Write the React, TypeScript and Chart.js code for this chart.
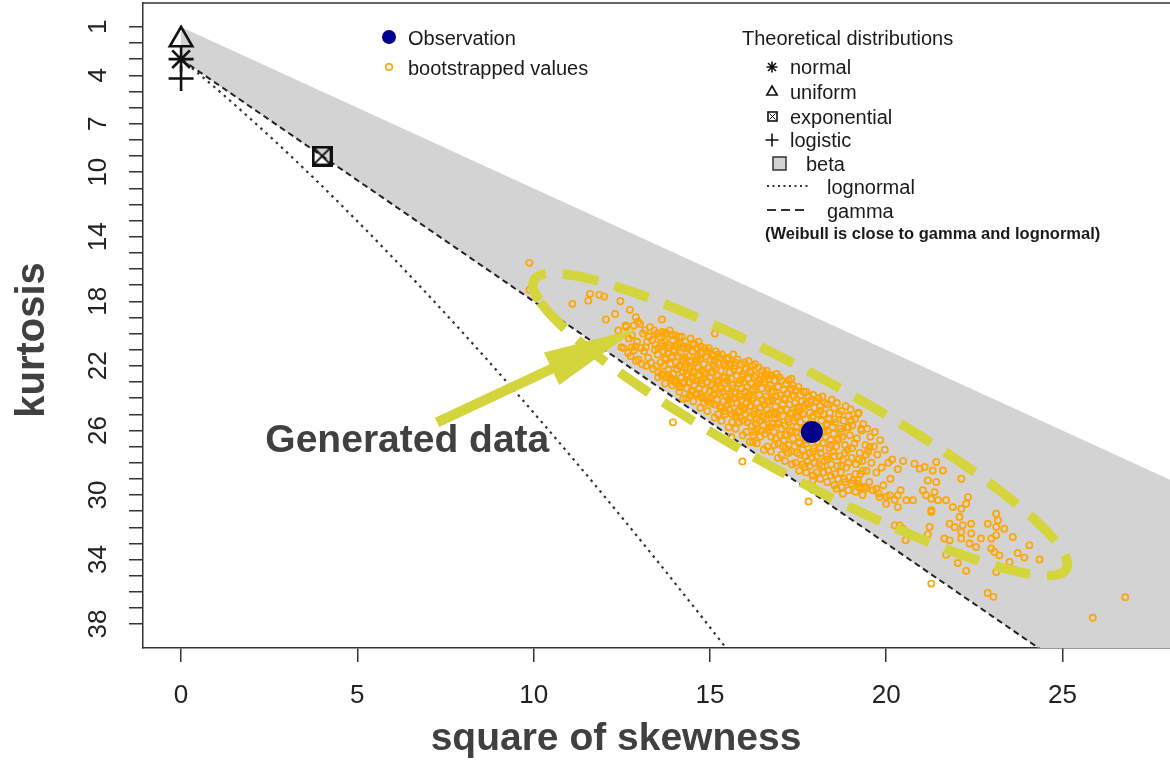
import { useEffect, useRef } from "react";
import { Chart, registerables } from "chart.js";

Chart.register(...registerables);

const FONT = "'Liberation Sans', Arial, Helvetica, sans-serif";

// Observed sample (square of skewness, kurtosis)
const observedSkew2 = [17.89];
const observedKurt = [26.1];

// Single-point theoretical distributions
const normalPoint = { x: 0, y: 3 };
const uniformPoint = { x: 0, y: 1.8 };
const logisticPoint = { x: 0, y: 4.2 };
const exponentialPoint = { x: 4, y: 9 };

// Lognormal curve
const lognormalSkew2 = [0, 0.465, 0.961, 1.488, 2.048, 2.641, 3.267, 3.928, 4.624, 5.356, 6.125, 6.931, 7.776, 8.66, 9.583, 10.547, 11.552, 12.599, 13.689, 14.822, 16.0];
const lognormalKurt = [3, 3.838, 4.756, 5.758, 6.85, 8.035, 9.32, 10.71, 12.21, 13.825, 15.563, 17.427, 19.426, 21.564, 23.848, 26.285, 28.882, 31.644, 34.58, 37.696, 41.0];

// Gamma line
const gammaSkew2 = [0, 26];
const gammaKurt = [3, 42];

// Beta region outline (upper limit and gamma line)
const betaSkew2 = [0, 30, 30, 0];
const betaKurt = [1, 31, 48, 3];

// Bootstrapped values, flat (skew², kurtosis) pairs
const bootCore = [
  12.55,20.9, 12.62,19.6, 12.68,21.2, 12.70,20.3,
  12.75,21.4, 12.79,20.1, 12.84,19.5, 12.88,20.8, 12.90,21.7,
  12.93,20.5, 12.97,21.6, 13.02,19.4, 13.05,20.9, 13.08,21.9, 13.10,20.0,
  13.13,21.1, 13.16,19.8, 13.19,22.0, 13.22,20.5, 13.25,21.5, 13.28,20.2, 13.30,19.6,
  13.33,21.8, 13.36,20.4, 13.39,22.2, 13.42,19.8, 13.44,21.0, 13.46,20.7, 13.48,22.0, 13.50,20.0,
  13.52,21.3, 13.54,22.4, 13.57,20.2, 13.60,21.8, 13.62,20.8, 13.64,22.6, 13.66,19.9, 13.68,21.1, 13.70,22.0,
  13.72,20.5, 13.74,21.6, 13.76,22.7, 13.78,20.0, 13.80,21.2, 13.82,22.2, 13.84,20.9, 13.86,19.8, 13.88,21.9, 13.90,22.8,
  13.92,21.5, 13.94,20.4, 13.96,22.5, 13.98,21.0, 14.00,23.0, 14.02,20.1, 14.04,21.8, 14.06,22.2, 14.08,20.7, 14.10,21.4, 14.11,23.1,
  14.12,22.0, 14.14,20.6, 14.15,23.3, 14.17,21.2, 14.19,22.7, 14.20,20.2, 14.22,21.7, 14.24,22.4, 14.26,20.9, 14.27,23.0, 14.29,21.5, 14.30,22.1,
  14.31,20.5, 14.33,21.9, 14.35,23.4, 14.36,22.6, 14.38,20.9, 14.40,21.4, 14.42,23.0, 14.44,22.2, 14.45,20.3, 14.47,21.7, 14.48,23.6, 14.50,22.8,
  14.51,21.1, 14.53,22.4, 14.55,20.6, 14.56,23.2, 14.58,21.8, 14.60,22.9, 14.62,20.9, 14.63,23.7, 14.65,21.4, 14.66,22.1, 14.68,20.5, 14.69,23.4, 14.70,22.6,
  14.71,21.6, 14.73,23.9, 14.74,20.8, 14.76,22.3, 14.77,23.1, 14.79,21.2, 14.80,22.8, 14.82,24.0, 14.83,21.9, 14.85,20.9, 14.86,23.5, 14.88,22.5, 14.90,21.4,
  14.91,23.0, 14.93,21.1, 14.94,24.2, 14.96,22.1, 14.97,20.9, 14.99,23.6, 15.00,22.7, 15.02,21.6, 15.03,24.0, 15.05,23.2, 15.06,21.3, 15.08,22.4, 15.09,23.8, 15.10,22.0,
  15.11,21.4, 15.13,23.4, 15.14,24.4, 15.16,22.2, 15.17,21.1, 15.19,23.0, 15.20,24.1, 15.22,22.6, 15.23,21.8, 15.25,23.7, 15.26,22.9, 15.28,24.5, 15.29,21.5, 15.30,23.3,
  15.31,22.3, 15.33,24.6, 15.34,21.3, 15.36,23.6, 15.37,22.7, 15.39,24.2, 15.40,21.9, 15.42,23.1, 15.43,24.8, 15.45,22.0, 15.46,23.9, 15.48,21.6, 15.49,22.9, 15.50,24.4,
  15.51,23.4, 15.53,21.5, 15.54,24.7, 15.56,22.4, 15.57,23.9, 15.58,21.9, 15.60,24.3, 15.61,22.8, 15.63,25.0, 15.64,23.2, 15.66,21.3, 15.67,24.0, 15.68,22.2, 15.69,23.6, 15.70,24.9,
  15.71,22.0, 15.73,23.7, 15.74,25.1, 15.76,22.6, 15.77,24.3, 15.78,21.6, 15.80,23.1, 15.81,24.8, 15.83,22.3, 15.84,23.9, 15.86,25.2, 15.87,22.9, 15.88,24.5, 15.89,21.9, 15.90,23.4,
  15.91,24.1, 15.93,22.5, 15.94,25.4, 15.96,23.0, 15.97,24.7, 15.98,21.8, 16.00,23.6, 16.01,25.0, 16.03,22.2, 16.04,24.3, 16.06,23.3, 16.07,25.5, 16.08,22.8, 16.09,24.0, 16.10,21.7,
  16.11,23.8, 16.13,25.2, 16.14,22.4, 16.16,24.5, 16.17,23.1, 16.18,25.7, 16.20,22.0, 16.21,24.0, 16.23,23.5, 16.24,25.0, 16.26,22.7, 16.27,24.8, 16.28,21.9, 16.29,23.3, 16.30,25.6,
  16.31,22.6, 16.33,24.3, 16.34,25.9, 16.36,23.1, 16.37,24.9, 16.38,22.1, 16.40,23.8, 16.41,25.4, 16.43,22.9, 16.44,24.6, 16.46,26.0, 16.47,23.4, 16.48,25.1, 16.49,22.3, 16.50,24.1,
  16.51,25.7, 16.53,23.0, 16.54,24.4, 16.56,26.2, 16.57,22.5, 16.58,23.9, 16.60,25.3, 16.61,22.3, 16.63,24.7, 16.64,26.0, 16.66,23.4, 16.67,25.0, 16.68,22.8, 16.69,24.2, 16.70,25.8,
  16.71,23.2, 16.73,24.9, 16.74,26.4, 16.76,22.6, 16.77,24.1, 16.78,25.6, 16.80,23.6, 16.81,26.1, 16.83,22.9, 16.84,25.2, 16.86,24.5, 16.87,26.5, 16.88,23.9, 16.89,22.5, 16.90,25.0,
  16.91,24.2, 16.93,26.8, 16.94,23.3, 16.96,25.5, 16.97,22.7, 16.98,24.8, 17.00,26.3, 17.01,23.8, 17.03,25.9, 17.04,22.9, 17.06,24.4, 17.07,27.0, 17.08,25.1, 17.09,23.5, 17.10,26.6,
  17.11,24.0, 17.13,25.7, 17.14,27.1, 17.16,23.1, 17.17,24.7, 17.18,26.3, 17.20,23.7, 17.21,25.3, 17.23,26.9, 17.24,22.9, 17.26,24.4, 17.27,26.0, 17.28,25.0, 17.30,23.4,
  17.31,27.3, 17.33,24.9, 17.34,23.2, 17.36,26.5, 17.37,25.4, 17.38,23.9, 17.40,27.0, 17.41,24.3, 17.43,26.1, 17.44,23.5, 17.46,25.8, 17.47,24.6, 17.48,27.4, 17.50,25.1,
  17.51,23.3, 17.53,26.7, 17.54,24.8, 17.56,27.5, 17.57,25.5, 17.58,23.8, 17.60,26.2, 17.61,24.2, 17.63,27.2, 17.64,25.0, 17.66,23.6, 17.67,26.0, 17.68,24.5, 17.70,27.6,
  17.71,25.3, 17.73,23.6, 17.74,26.8, 17.76,24.4, 17.77,27.9, 17.78,25.8, 17.80,23.9, 17.81,26.4, 17.83,27.4, 17.84,24.9, 17.86,26.1, 17.88,24.1, 17.90,27.7,
  17.91,25.5, 17.93,23.8, 17.94,27.1, 17.96,24.6, 17.97,28.0, 17.98,26.3, 18.00,24.2, 18.01,25.9, 18.03,27.6, 18.05,25.0, 18.06,26.7, 18.08,24.0, 18.10,28.1,
  18.11,26.1, 18.13,24.5, 18.14,27.4, 18.16,25.4, 18.18,28.2, 18.19,23.9, 18.20,26.8, 18.22,25.0, 18.24,27.9, 18.26,24.3, 18.28,26.4, 18.30,25.7,
  18.31,27.6, 18.33,24.4, 18.34,26.0, 18.36,28.5, 18.38,25.3, 18.39,27.1, 18.40,24.9, 18.42,26.6, 18.44,28.1, 18.46,24.1, 18.48,25.8, 18.50,27.3,
  18.51,26.2, 18.53,24.6, 18.55,28.7, 18.56,25.5, 18.58,27.0, 18.60,24.3, 18.62,28.2, 18.64,26.5, 18.66,25.0, 18.68,27.6, 18.70,25.9,
  18.71,28.6, 18.73,24.8, 18.75,26.4, 18.77,27.8, 18.79,25.4, 18.81,29.0, 18.83,26.9, 18.85,24.5, 18.87,28.3, 18.90,25.8,
  18.91,27.2, 18.93,25.1, 18.95,28.9, 18.97,26.3, 18.99,24.7, 19.02,27.7, 19.04,25.7, 19.07,29.1, 19.10,26.8,
  19.12,25.3, 19.14,28.1, 19.17,26.5, 19.19,29.3, 19.22,24.9, 19.25,27.4, 19.27,28.7, 19.30,26.0,
  19.32,27.9, 19.35,25.6, 19.38,29.5, 19.41,26.9, 19.44,28.5, 19.46,25.9, 19.49,27.3,
  19.52,29.2, 19.55,26.4, 19.58,28.0, 19.62,29.7, 19.65,27.0, 19.68,26.1,
  19.72,28.6, 19.75,27.5, 19.79,29.9, 19.83,26.6, 19.87,28.3,
  19.92,29.4, 19.96,27.2, 20.01,30.1, 20.06,28.0,
  20.12,29.0, 20.17,27.8, 20.24,30.3,
  20.33,28.4, 20.41,29.7, 20.48,27.9,
];

// Extra bootstrap values in the densest part of the cloud
const bootCoreDense = [
  13.53,22.7, 13.53,20.9, 13.53,20.0, 13.63,22.5, 13.63,20.6,
  13.73,23.1, 13.73,21.5, 13.73,20.0, 13.83,22.6, 13.83,20.7,
  13.93,23.2, 13.93,21.4, 13.93,20.1, 14.03,22.9, 14.03,20.8,
  14.13,23.6, 14.13,22.0, 14.13,20.2, 14.23,23.1, 14.23,21.6,
  14.33,24.0, 14.33,22.5, 14.33,20.8, 14.43,23.8, 14.43,21.7,
  14.53,24.2, 14.53,22.3, 14.53,20.7, 14.63,23.8, 14.63,21.6,
  14.73,24.6, 14.73,22.9, 14.73,21.2, 14.83,24.3, 14.83,22.4,
  14.93,24.8, 14.93,23.0, 14.93,21.1, 15.03,24.3, 15.03,22.4,
  15.13,25.2, 15.13,23.7, 15.13,21.7, 15.23,25.0, 15.23,22.9, 15.23,21.3,
  15.33,25.4, 15.33,23.4, 15.43,25.0, 15.43,22.7,
  15.53,25.8, 15.53,24.1, 15.53,21.9, 15.63,25.5, 15.63,23.4,
  15.73,25.9, 15.73,24.0, 15.73,21.8, 15.83,25.5, 15.83,23.1,
  15.93,26.3, 15.93,24.6, 15.93,22.7, 16.03,26.1, 16.03,23.9,
  16.13,26.7, 16.13,24.5, 16.13,22.3, 16.23,26.3, 16.23,23.8,
  16.33,26.8, 16.33,25.3, 16.33,23.1, 16.43,26.4, 16.43,24.6,
  16.53,27.2, 16.53,25.2, 16.53,22.8, 16.63,27.0, 16.63,24.2,
  16.73,27.3, 16.73,25.8, 16.73,23.6, 16.83,26.9, 16.83,25.0,
  16.93,27.7, 16.93,25.6, 16.93,23.3, 17.03,27.5, 17.03,24.7,
  17.13,27.9, 17.13,26.3, 17.13,24.1, 17.23,27.4, 17.23,25.5,
  17.33,28.1, 17.33,26.1, 17.33,23.8, 17.43,28.0, 17.43,25.2,
  17.53,28.5, 17.53,26.8, 17.53,24.6, 17.63,28.1, 17.63,25.9,
  17.73,28.6, 17.73,26.6, 17.73,24.3, 17.83,28.2, 17.83,25.7,
  17.93,28.8, 17.93,27.3, 17.93,25.1, 18.03,28.6, 18.03,26.4,
  18.13,29.0, 18.13,27.1, 18.13,24.8, 18.23,28.6, 18.23,26.1,
  18.33,29.2, 18.33,27.8, 18.33,25.6, 18.43,28.8, 18.43,26.9,
  18.53,29.4, 18.53,27.6, 18.53,25.3, 18.63,29.0, 18.63,26.6,
  18.73,29.5, 18.73,28.2, 18.73,26.1, 18.83,29.2, 18.83,27.4,
  18.93,29.7, 18.93,28.0, 18.93,25.8, 19.03,29.3, 19.03,27.1,
  19.13,29.8, 19.13,28.7, 19.23,29.5, 19.23,27.8,
  19.33,30.0, 19.33,28.5, 19.43,29.6, 19.43,27.5,
];

const bootUpperLeft = [
  9.88,15.62, 9.88,17.29, 11.60,17.54, 11.86,17.60, 12.00,17.71, 11.55,17.96, 11.10,18.16,
  12.46,18.00, 12.73,18.53, 12.31,18.78, 12.05,19.13, 12.90,18.99, 12.96,19.26, 12.61,19.50,
  13.64,19.13, 12.40,19.81, 12.49,20.84, 12.78,20.84, 12.84,21.05, 13.18,20.84, 15.14,20.00,
  16.69,22.60, 17.31,22.80, 17.31,23.42, 13.86,22.70, 14.14,23.32, 14.48,23.53, 14.76,23.94,
  14.24,24.04, 16.22,26.72, 15.61,26.41, 16.27,26.10,
];

const bootRightTail = [
  19.20,24.97, 19.01,25.38, 19.29,25.90, 19.53,27.03, 17.69,28.27, 17.92,28.79, 17.92,29.10,
  18.59,29.61, 18.77,29.92, 19.20,29.10, 19.29,29.51, 19.72,29.61, 19.81,30.13, 20.10,30.02,
  20.33,30.02, 20.00,30.54, 20.33,30.75, 20.57,30.33, 20.76,30.33, 20.80,28.06, 20.95,28.37,
  21.09,28.27, 21.42,27.96, 21.32,28.48, 21.61,28.48, 21.18,29.10, 21.42,29.20, 21.04,29.71,
  21.13,30.02, 21.37,29.82, 21.28,30.23, 21.47,30.33, 21.70,30.33, 21.89,30.75, 22.13,30.85,
  21.28,31.05, 22.08,31.36, 22.13,28.99, 22.32,30.13, 22.27,30.54, 23.12,31.16, 20.38,31.88,
  20.24,31.88, 21.28,30.95,
  20.47,32.09, 21.23,31.98, 21.18,32.44, 21.80,31.78, 21.94,31.98, 22.17,31.88, 22.13,32.29,
  22.41,31.78, 22.41,32.39, 21.65,32.70, 21.80,32.81, 22.13,32.70, 22.36,33.01, 22.55,33.22,
  22.69,32.70, 22.88,31.78, 23.12,31.98, 23.35,32.09, 23.17,31.57, 22.98,32.70, 23.12,32.50,
  22.98,33.32, 23.07,33.53, 23.21,33.74, 23.12,34.77, 23.26,34.46, 23.50,34.15, 23.59,32.60,
  23.73,33.59, 23.92,33.88, 24.06,33.12, 24.35,34.00, 21.70,33.70, 22.03,34.21, 22.27,34.70,
  20.55,32.81, 22.88,36.07, 23.04,36.31, 24.96,34.91, 25.86,37.61, 26.78,36.33,
];

const bootOutliers = [
  13.95,25.50, 15.92,27.92, 17.80,30.40, 21.28,35.49,
];

// Axis ticks
const xTickValues = [0, 5, 10, 15, 20, 25];
const yTickLabels = [1, 4, 7, 10, 14, 18, 22, 26, 30, 34, 38];
const yTickMarks = Array.from({ length: 38 }, (_, i) => i + 1);

// Hand-drawn highlight (data units): ellipse around the cloud, arrow and label
const ellipseCenter = { x: 17.56, y: 25.63 };
const ellipseAxisU = { x: 7.58, y: 8.66 };
const ellipseAxisV = { x: 0, y: 3.56 };
const arrowTail = { x: 7.26, y: 25.5 };
const arrowTip = { x: 12.95, y: 19.69 };
const calloutAnchor = { x: 2.39, y: 27.36 };
const calloutText = "Generated data";

const HIGHLIGHT = "#D4D43C";
const AXIS_COLOR = "#333333";

function pairs(flat: number[]) {
  const out: { x: number; y: number }[] = [];
  for (let i = 0; i < flat.length; i += 2) out.push({ x: flat[i], y: flat[i + 1] });
  return out;
}

function zip(xs: number[], ys: number[]) {
  return xs.map((x, i) => ({ x, y: ys[i] }));
}

function makeBoxedCross(size: number, lw: number) {
  const c = document.createElement("canvas");
  c.width = size;
  c.height = size;
  const g = c.getContext("2d")!;
  g.strokeStyle = "#111";
  g.lineWidth = lw;
  const m = lw / 2;
  g.strokeRect(m, m, size - lw, size - lw);
  g.lineWidth = Math.max(1, lw * 0.6);
  g.beginPath();
  g.moveTo(lw, lw);
  g.lineTo(size - lw, size - lw);
  g.moveTo(size - lw, lw);
  g.lineTo(lw, size - lw);
  g.stroke();
  return c;
}

function drawAsterisk(ctx: CanvasRenderingContext2D, x: number, y: number, r: number) {
  const d = r * 0.72;
  ctx.beginPath();
  ctx.moveTo(x - r, y); ctx.lineTo(x + r, y);
  ctx.moveTo(x, y - r); ctx.lineTo(x, y + r);
  ctx.moveTo(x - d, y - d); ctx.lineTo(x + d, y + d);
  ctx.moveTo(x - d, y + d); ctx.lineTo(x + d, y - d);
  ctx.stroke();
}

function drawTriangle(ctx: CanvasRenderingContext2D, x: number, y: number, r: number) {
  ctx.beginPath();
  for (let i = 0; i < 3; i++) {
    const a = (i * 2 * Math.PI) / 3;
    const px = x + Math.sin(a) * r;
    const py = y - Math.cos(a) * r;
    if (i === 0) ctx.moveTo(px, py); else ctx.lineTo(px, py);
  }
  ctx.closePath();
  ctx.stroke();
}

function drawPlus(ctx: CanvasRenderingContext2D, x: number, y: number, r: number) {
  ctx.beginPath();
  ctx.moveTo(x - r, y); ctx.lineTo(x + r, y);
  ctx.moveTo(x, y - r); ctx.lineTo(x, y + r);
  ctx.stroke();
}

const cullenFreyDecor = {
  id: "cullenFreyDecor",
  beforeDatasetsDraw(chart: any) {
    const { ctx, chartArea, scales } = chart;
    const xs = scales.x;
    const ys = scales.y;
    ctx.save();
    ctx.beginPath();
    ctx.rect(chartArea.left, chartArea.top, chartArea.right - chartArea.left, chartArea.bottom - chartArea.top);
    ctx.clip();
    ctx.beginPath();
    betaSkew2.forEach((s, i) => {
      const px = xs.getPixelForValue(s);
      const py = ys.getPixelForValue(betaKurt[i]);
      if (i === 0) ctx.moveTo(px, py); else ctx.lineTo(px, py);
    });
    ctx.closePath();
    ctx.fillStyle = "#D3D3D3";
    ctx.fill();
    ctx.restore();
  },
  afterDraw(chart: any) {
    const { ctx, chartArea, scales } = chart;
    const xs = scales.x;
    const ys = scales.y;
    const px = (p: { x: number; y: number }) => ({ x: xs.getPixelForValue(p.x), y: ys.getPixelForValue(p.y) });

    ctx.save();

    // top frame line
    ctx.strokeStyle = AXIS_COLOR;
    ctx.lineWidth = 1.5;
    ctx.beginPath();
    ctx.moveTo(chartArea.left, chartArea.top);
    ctx.lineTo(chartArea.right, chartArea.top);
    ctx.stroke();

    // tick labels
    ctx.fillStyle = "#222";
    ctx.font = `26px ${FONT}`;
    ctx.textAlign = "center";
    ctx.textBaseline = "alphabetic";
    xTickValues.forEach((v) => {
      ctx.fillText(String(v), xs.getPixelForValue(v), 703);
    });
    yTickLabels.forEach((v) => {
      ctx.save();
      ctx.translate(106, ys.getPixelForValue(v));
      ctx.rotate(-Math.PI / 2);
      ctx.fillText(String(v), 0, 0);
      ctx.restore();
    });

    // axis titles
    ctx.fillStyle = "#404040";
    ctx.font = `bold 39px ${FONT}`;
    ctx.textAlign = "center";
    ctx.fillText("square of skewness", 616, 750);
    ctx.save();
    ctx.translate(44, 340);
    ctx.rotate(-Math.PI / 2);
    ctx.font = `bold 40px ${FONT}`;
    ctx.fillText("kurtosis", 0, 0);
    ctx.restore();

    // legend: observation / bootstrap
    ctx.textAlign = "left";
    ctx.textBaseline = "middle";
    ctx.font = `20px ${FONT}`;
    ctx.fillStyle = "#00008B";
    ctx.beginPath();
    ctx.arc(389, 37, 7, 0, Math.PI * 2);
    ctx.fill();
    ctx.strokeStyle = "#FFA500";
    ctx.lineWidth = 1.6;
    ctx.beginPath();
    ctx.arc(389, 67, 3.3, 0, Math.PI * 2);
    ctx.stroke();
    ctx.fillStyle = "#1a1a1a";
    ctx.fillText("Observation", 408, 39);
    ctx.fillText("bootstrapped values", 408, 69);

    // legend: theoretical distributions
    ctx.fillText("Theoretical distributions", 742, 39);
    ctx.strokeStyle = "#111";
    ctx.lineWidth = 1.6;
    drawAsterisk(ctx, 772, 67, 5.5);
    ctx.fillText("normal", 790, 68);
    drawTriangle(ctx, 772, 92, 6);
    ctx.fillText("uniform", 790, 93);
    ctx.strokeRect(768, 112, 9, 9);
    ctx.lineWidth = 1;
    ctx.beginPath();
    ctx.moveTo(769.5, 113.5); ctx.lineTo(775.5, 119.5);
    ctx.moveTo(775.5, 113.5); ctx.lineTo(769.5, 119.5);
    ctx.stroke();
    ctx.lineWidth = 1.6;
    ctx.fillText("exponential", 790, 118);
    drawPlus(ctx, 772, 140, 6.5);
    ctx.fillText("logistic", 790, 141);
    ctx.fillStyle = "#D3D3D3";
    ctx.fillRect(773, 157, 13, 13);
    ctx.strokeStyle = "#333";
    ctx.lineWidth = 1.5;
    ctx.strokeRect(773, 157, 13, 13);
    ctx.fillStyle = "#1a1a1a";
    ctx.fillText("beta", 806, 165);
    ctx.strokeStyle = "#333";
    ctx.lineWidth = 1.8;
    ctx.setLineDash([2, 3.5]);
    ctx.beginPath();
    ctx.moveTo(767, 186); ctx.lineTo(808, 186);
    ctx.stroke();
    ctx.setLineDash([9, 5]);
    ctx.beginPath();
    ctx.moveTo(767, 210); ctx.lineTo(808, 210);
    ctx.stroke();
    ctx.setLineDash([]);
    ctx.fillText("lognormal", 827, 188);
    ctx.fillText("gamma", 827, 212);
    ctx.font = `bold 16.5px ${FONT}`;
    ctx.fillText("(Weibull is close to gamma and lognormal)", 765, 234);

    // highlight ellipse
    ctx.strokeStyle = HIGHLIGHT;
    ctx.lineWidth = 9.5;
    ctx.lineCap = "butt";
    ctx.setLineDash([36, 17]);
    ctx.beginPath();
    const steps = 240;
    for (let i = 0; i <= steps; i++) {
      const t = Math.PI * 0.93 + (i / steps) * Math.PI * 2;
      const p = px({
        x: ellipseCenter.x + Math.cos(t) * ellipseAxisU.x + Math.sin(t) * ellipseAxisV.x,
        y: ellipseCenter.y + Math.cos(t) * ellipseAxisU.y + Math.sin(t) * ellipseAxisV.y,
      });
      if (i === 0) ctx.moveTo(p.x, p.y); else ctx.lineTo(p.x, p.y);
    }
    ctx.stroke();
    ctx.setLineDash([]);

    // arrow
    const a0 = px(arrowTail);
    const a1 = px(arrowTip);
    const dx = a1.x - a0.x;
    const dy = a1.y - a0.y;
    const len = Math.hypot(dx, dy);
    const ux = dx / len;
    const uy = dy / len;
    const headLen = 95;
    const headHalf = 18;
    const bx = a1.x - ux * headLen;
    const by = a1.y - uy * headLen;
    ctx.strokeStyle = HIGHLIGHT;
    ctx.lineWidth = 10;
    ctx.beginPath();
    ctx.moveTo(a0.x, a0.y);
    ctx.lineTo(bx + ux * 2, by + uy * 2);
    ctx.stroke();
    ctx.fillStyle = HIGHLIGHT;
    ctx.beginPath();
    ctx.moveTo(a1.x, a1.y);
    ctx.lineTo(bx - uy * headHalf, by + ux * headHalf);
    ctx.lineTo(bx + uy * headHalf, by - ux * headHalf);
    ctx.closePath();
    ctx.fill();

    // callout label
    const c = px(calloutAnchor);
    ctx.fillStyle = "#404040";
    ctx.font = `bold 39px ${FONT}`;
    ctx.textAlign = "left";
    ctx.textBaseline = "alphabetic";
    ctx.fillText(calloutText, c.x, c.y);

    ctx.restore();
  },
};

export default function App() {
  const canvasRef = useRef<HTMLCanvasElement | null>(null);

  useEffect(() => {
    const canvas = canvasRef.current;
    if (!canvas) return;
    const expMarker = makeBoxedCross(21, 3);
    const bootPoints = [
      ...pairs(bootCore),
      ...pairs(bootCoreDense),
      ...pairs(bootUpperLeft),
      ...pairs(bootRightTail),
      ...pairs(bootOutliers),
    ];

    const axisGrid = {
      drawOnChartArea: false,
      drawTicks: true,
      tickLength: 14,
      color: AXIS_COLOR,
      lineWidth: 1.5,
    };
    const axisBorder = { display: true, color: AXIS_COLOR, width: 1.5 };

    const chart = new Chart(canvas, {
      type: "scatter",
      data: {
        datasets: [
          {
            label: "Observation",
            data: zip(observedSkew2, observedKurt),
            pointRadius: 11,
            pointBackgroundColor: "#00008B",
            pointBorderColor: "#00008B",
            pointBorderWidth: 0,
            order: 1,
          },
          {
            label: "normal",
            data: [normalPoint],
            pointStyle: "star",
            pointRadius: 12.5,
            pointBorderWidth: 2.6,
            pointBorderColor: "#111",
            pointBackgroundColor: "rgba(0,0,0,0)",
            order: 2,
          },
          {
            label: "uniform",
            data: [uniformPoint],
            pointStyle: "triangle",
            pointRadius: 13,
            pointBorderWidth: 2.6,
            pointBorderColor: "#111",
            pointBackgroundColor: "rgba(0,0,0,0)",
            order: 2,
          },
          {
            label: "logistic",
            data: [logisticPoint],
            pointStyle: "cross",
            pointRadius: 12.5,
            pointBorderWidth: 2.6,
            pointBorderColor: "#111",
            pointBackgroundColor: "rgba(0,0,0,0)",
            order: 2,
          },
          {
            label: "exponential",
            data: [exponentialPoint],
            pointStyle: expMarker,
            order: 2,
          },
          {
            label: "bootstrapped values",
            data: bootPoints,
            pointRadius: 3.1,
            pointBorderWidth: 1.7,
            pointBorderColor: "#FFA500",
            pointBackgroundColor: "rgba(0,0,0,0)",
            order: 3,
          },
          {
            label: "gamma",
            data: zip(gammaSkew2, gammaKurt),
            showLine: true,
            borderColor: "#222",
            borderWidth: 2,
            borderDash: [6, 4],
            pointRadius: 0,
            order: 4,
          },
          {
            label: "lognormal",
            data: zip(lognormalSkew2, lognormalKurt),
            showLine: true,
            borderColor: "#333",
            borderWidth: 2.2,
            borderDash: [2.5, 4.5],
            pointRadius: 0,
            order: 4,
          },
        ],
      },
      options: {
        animation: false,
        responsive: false,
        events: [],
        layout: { autoPadding: false, padding: { top: 3, left: 0, right: 0, bottom: 0 } },
        plugins: { legend: { display: false }, tooltip: { enabled: false } },
        scales: {
          x: {
            type: "linear",
            min: -1.08,
            max: 28.05,
            afterFit: (s: any) => { s.height = 115; },
            afterBuildTicks: (s: any) => { s.ticks = xTickValues.map((v) => ({ value: v })); },
            ticks: { display: false },
            grid: axisGrid,
            border: axisBorder,
          },
          y: {
            type: "linear",
            reverse: true,
            min: -0.48,
            max: 39.48,
            afterFit: (s: any) => { s.width = 143; },
            afterBuildTicks: (s: any) => { s.ticks = yTickMarks.map((v) => ({ value: v })); },
            ticks: { display: false },
            grid: axisGrid,
            border: axisBorder,
          },
        },
      },
      plugins: [cullenFreyDecor],
    } as any);

    return () => chart.destroy();
  }, []);

  return (
    <div style={{ position: "absolute", left: 0, top: 0, width: 1170, height: 763, background: "#ffffff" }}>
      <canvas ref={canvasRef} width={1170} height={763} style={{ display: "block", width: 1170, height: 763 }} />
    </div>
  );
}
